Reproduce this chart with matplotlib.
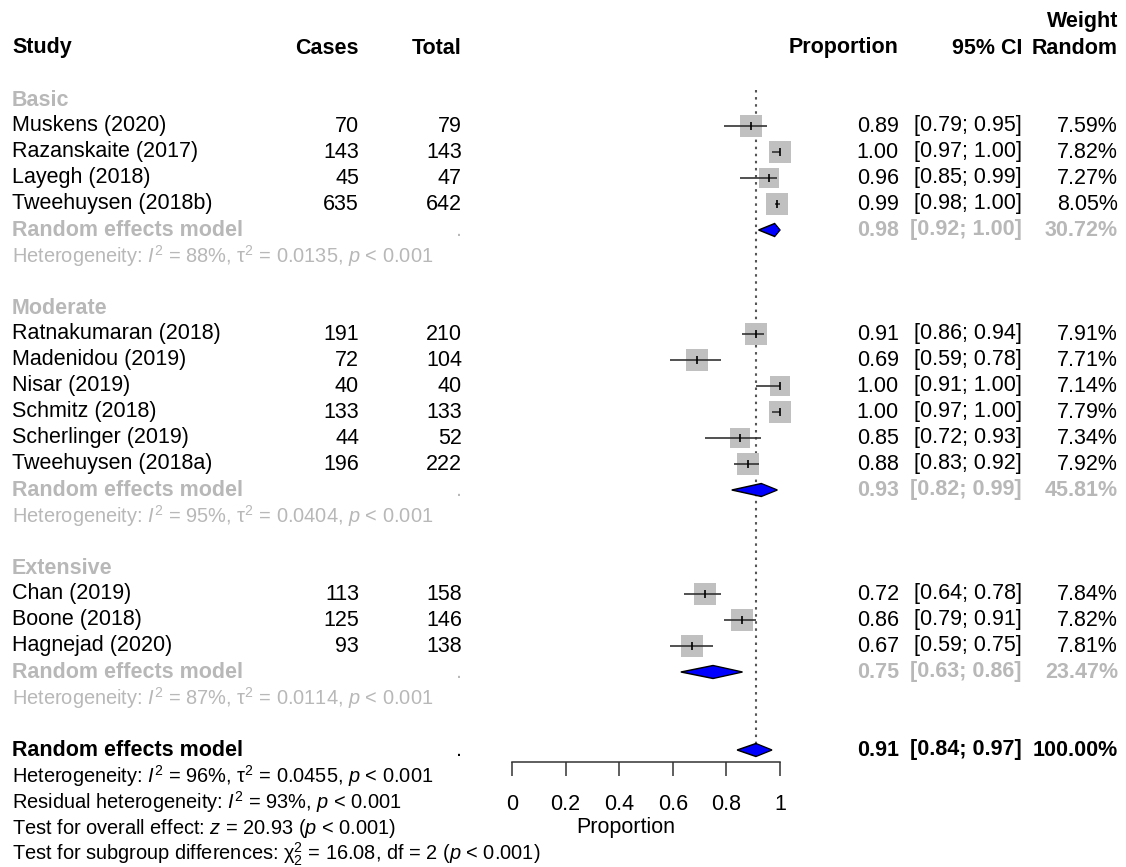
import numpy as np
import matplotlib.pyplot as plt

plt.rcParams['font.family'] = 'Liberation Sans'
plt.rcParams['mathtext.fontset'] = 'custom'
plt.rcParams['mathtext.rm'] = 'Liberation Sans'
plt.rcParams['mathtext.it'] = 'Liberation Sans:italic'
plt.rcParams['mathtext.bf'] = 'Liberation Sans:bold'
plt.rcParams['mathtext.default'] = 'regular'

# subgroups
group_names = ['Basic', 'Moderate', 'Extensive']

basic_study = ['Muskens (2020)', 'Razanskaite (2017)', 'Layegh (2018)', 'Tweehuysen (2018b)']
basic_cases = [70, 143, 45, 635]
basic_total = [79, 143, 47, 642]
basic_prop = [0.89, 1.00, 0.96, 0.99]
basic_lo = [0.79, 0.97, 0.85, 0.98]
basic_hi = [0.95, 1.00, 0.99, 1.00]
basic_w = [7.59, 7.82, 7.27, 8.05]

mod_study = ['Ratnakumaran (2018)', 'Madenidou (2019)', 'Nisar (2019)', 'Schmitz (2018)',
             'Scherlinger (2019)', 'Tweehuysen (2018a)']
mod_cases = [191, 72, 40, 133, 44, 196]
mod_total = [210, 104, 40, 133, 52, 222]
mod_prop = [0.91, 0.69, 1.00, 1.00, 0.85, 0.88]
mod_lo = [0.86, 0.59, 0.91, 0.97, 0.72, 0.83]
mod_hi = [0.94, 0.78, 1.00, 1.00, 0.93, 0.92]
mod_w = [7.91, 7.71, 7.14, 7.79, 7.34, 7.92]

ext_study = ['Chan (2019)', 'Boone (2018)', 'Hagnejad (2020)']
ext_cases = [113, 125, 93]
ext_total = [158, 146, 138]
ext_prop = [0.72, 0.86, 0.67]
ext_lo = [0.64, 0.79, 0.59]
ext_hi = [0.78, 0.91, 0.75]
ext_w = [7.84, 7.82, 7.81]

# random effects per subgroup
sub_prop = [0.98, 0.93, 0.75]
sub_lo = [0.92, 0.82, 0.63]
sub_hi = [1.00, 0.99, 0.86]
sub_w = [30.72, 45.81, 23.47]
sub_i2 = ['88%', '95%', '87%']
sub_tau2 = ['0.0135', '0.0404', '0.0114']

overall_prop = 0.91
overall_lo = 0.84
overall_hi = 0.97
overall_w = 100.00

xticks = [0, 0.2, 0.4, 0.6, 0.8, 1]
xticklabels = ['0', '0.2', '0.4', '0.6', '0.8', '1']

groups = [
    (basic_study, basic_cases, basic_total, basic_prop, basic_lo, basic_hi, basic_w),
    (mod_study, mod_cases, mod_total, mod_prop, mod_lo, mod_hi, mod_w),
    (ext_study, ext_cases, ext_total, ext_prop, ext_lo, ext_hi, ext_w),
]

# layout (pixels)
W, H = 1126, 867
y0, dy = 100, 26.0
x_study, x_cases, x_total = 12, 359, 462
x_prop, x_ci, x_w = 899, 1022, 1118
ax_left, ax_right = 512, 780
fs = 15.5
fs_note = 14.4
grey = '#b8b8b8'

fig = plt.figure(figsize=(W / 100, H / 100), dpi=100)
tx = fig.add_axes([0, 0, 1, 1])
tx.set_xlim(0, W)
tx.set_ylim(H, 0)
tx.axis('off')

fx = fig.add_axes([ax_left / W, 0, (ax_right - ax_left) / W, 1])
fx.set_xlim(0, 1)
fx.set_ylim(H, 0)
fx.patch.set_alpha(0)
for s in ['top', 'left', 'right']:
    fx.spines[s].set_visible(False)
fx.set_yticks([])

I2 = '$\\mathit{I}^2$'
P = '$\\mathit{p}$'


def row_y(r):
    return y0 + r * dy


def txt(x, r, s, ha='left', color='black', weight='normal', size=fs):
    tx.text(x, row_y(r), s, ha=ha, va='center', fontsize=size, color=color, fontweight=weight)


def values(r, p, lo, hi, w, color='black', weight='normal'):
    txt(x_prop, r, f'{p:.2f}', ha='right', color=color, weight=weight)
    txt(x_ci, r, f'[{lo:.2f}; {hi:.2f}]', ha='right', color=color, weight=weight)
    txt(x_w, r, f'{w:.2f}%', ha='right', color=color, weight=weight)


def diamond(r, p, lo, hi):
    y = row_y(r)
    h = 6.5
    fx.fill([lo, p, hi, p], [y, y - h, y, y + h], facecolor='#0000ff', edgecolor='black',
            lw=1.0, zorder=4, clip_on=False)


# header
txt(x_study, -2, 'Study', weight='bold')
txt(x_cases, -2, 'Cases', ha='right', weight='bold')
txt(x_total, -2, 'Total', ha='right', weight='bold')
txt(x_prop, -2, 'Proportion', ha='right', weight='bold')
txt(x_ci, -2, '95% CI', ha='right', weight='bold')
txt(x_w, -3, 'Weight', ha='right', weight='bold')
txt(x_w, -2, 'Random', ha='right', weight='bold')

r = 0
for g, (study, cases, total, prop, lo, hi, w) in enumerate(groups):
    txt(x_study, r, group_names[g], color=grey, weight='bold')
    r += 1
    for i in range(len(study)):
        txt(x_study, r, study[i])
        txt(x_cases, r, str(cases[i]), ha='right')
        txt(x_total, r, str(total[i]), ha='right')
        values(r, prop[i], lo[i], hi[i], w[i])
        y = row_y(r)
        side_pt = 7.7 * np.sqrt(w[i]) * 0.72
        fx.scatter(prop[i], y, s=side_pt ** 2, marker='s', color='#c0c0c0', lw=0,
                   zorder=2, clip_on=False)
        fx.hlines(y, lo[i], hi[i], color='#333333', lw=1.2, zorder=3, clip_on=False)
        fx.scatter(prop[i], y, s=30, marker='|', color='black', lw=1.2, zorder=3, clip_on=False)
        r += 1
    txt(x_study, r, 'Random effects model', color=grey, weight='bold')
    txt(x_total, r, '.', ha='right', color=grey)
    values(r, sub_prop[g], sub_lo[g], sub_hi[g], sub_w[g], color=grey, weight='bold')
    diamond(r, sub_prop[g], sub_lo[g], sub_hi[g])
    r += 1
    txt(x_study, r, 'Heterogeneity: ' + I2 + ' = ' + sub_i2[g] + ', τ$^2$ = '
        + sub_tau2[g] + ', ' + P + ' < 0.001', color=grey, size=fs_note)
    r += 2

r_overall = r
txt(x_study, r, 'Random effects model', weight='bold')
txt(x_total, r, '.', ha='right')
values(r, overall_prop, overall_lo, overall_hi, overall_w, weight='bold')
diamond(r, overall_prop, overall_lo, overall_hi)
txt(x_study, r + 1, 'Heterogeneity: ' + I2 + ' = 96%, τ$^2$ = 0.0455, ' + P + ' < 0.001',
    size=fs_note)
txt(x_study, r + 2, 'Residual heterogeneity: ' + I2 + ' = 93%, ' + P + ' < 0.001', size=fs_note)
txt(x_study, r + 3, 'Test for overall effect: $\\mathit{z}$ = 20.93 (' + P + ' < 0.001)',
    size=fs_note)
txt(x_study, r + 4, 'Test for subgroup differences: $\\chi^2_2$ = 16.08, df = 2 (' + P
    + ' < 0.001)', size=fs_note)

# reference line
fx.vlines(overall_prop, row_y(0) - 10, row_y(r_overall) - 6, colors='#555555',
          linestyles=(0, (1.2, 2.2)), lw=1.5, zorder=1)

# x axis
fx.spines['bottom'].set_position(('data', row_y(r_overall) + 12))
fx.spines['bottom'].set_color('#333333')
fx.spines['bottom'].set_linewidth(1.1)
fx.set_xticks(xticks)
fx.set_xticklabels(xticklabels, fontsize=fs)
fx.tick_params(axis='x', direction='out', length=10, width=1.1, color='#333333', pad=13)
fx.text(0.426, row_y(r_overall + 3), 'Proportion', ha='center', va='center', fontsize=fs)

fig.savefig('out.png', dpi=100)
